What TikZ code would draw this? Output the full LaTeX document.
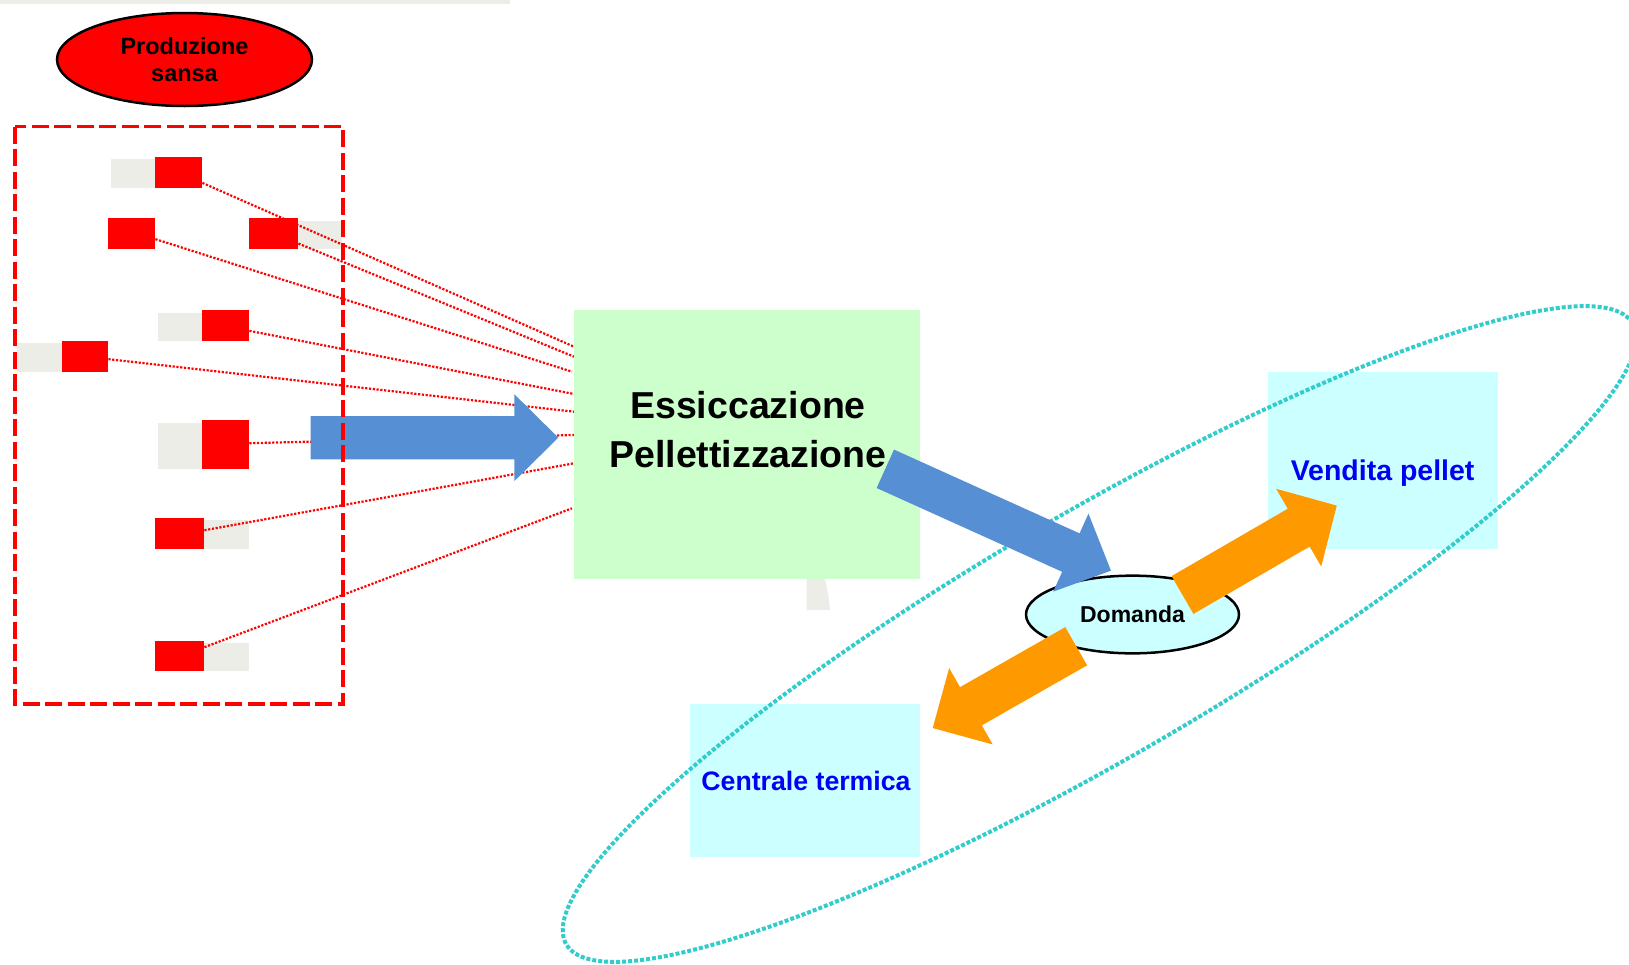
\documentclass[tikz,border=0pt]{standalone}
\usepackage{fontspec}
\setmainfont{Liberation Sans}
\usetikzlibrary{shapes.geometric,calc}
\pgfdeclarelayer{bg}
\pgfsetlayers{bg,main}
\definecolor{greenbg}{RGB}{204,255,204}
\definecolor{cyanbg}{RGB}{204,255,255}
\definecolor{grayc}{RGB}{235,237,230}
\definecolor{bluec}{RGB}{87,143,212}
\definecolor{orangec}{RGB}{255,153,0}
\definecolor{cyandot}{RGB}{51,204,204}
\definecolor{txtblue}{RGB}{0,0,245}
\newcommand{\blockarr}[6]{%
  \fill[#1, shift={(#2)}, rotate=#3] (0,-#5) -- ({#4-44},-#5) -- ({#4-44},-#6) -- (#4,0)
    -- ({#4-44},#6) -- ({#4-44},#5) -- (0,#5) -- cycle;}
\begin{document}
\begin{tikzpicture}[x=1pt,y=-1pt,
  redbox/.style={fill=red, draw=none, inner sep=0, anchor=north west},
  boxfill/.style={draw=none, inner sep=0, anchor=north west},
  reddot/.style={red, line width=2.2, dash pattern=on 2.2 off 1.6},
  bluetext/.style={text=txtblue, inner sep=0, anchor=base}]
\useasboundingbox (0,0) rectangle (1629,964);

% top strip
\fill[grayc] (0,0) rectangle (510,4);

% source ellipse
\node[ellipse, draw=black, line width=2.5, fill=red, minimum width=255, minimum height=93,
  inner sep=0, align=center, font=\bfseries\fontsize{23.5}{26.7}\selectfont] (prod) at (184.5,59.5) {Produzione\\sansa};

% red boxes
\node[redbox, minimum width=47, minimum height=30.7] (r1) at (155,157) {};
\node[redbox, minimum width=47, minimum height=30.7] (r2) at (108,218) {};
\node[redbox, minimum width=49, minimum height=30.7] (r3) at (249,218) {};
\node[redbox, minimum width=47, minimum height=30.7] (r4) at (202,310) {};
\node[redbox, minimum width=46, minimum height=30.7] (r5) at (62,341) {};
\node[redbox, minimum width=47, minimum height=49] (r6) at (202,420) {};
\node[redbox, minimum width=49, minimum height=30.7] (r7) at (155,518) {};
\node[redbox, minimum width=49, minimum height=29.7] (r8) at (155,641) {};

% green process box
\node[boxfill, fill=greenbg, minimum width=346, minimum height=269] (ess) at (574,310) {};
\fill[grayc] (806.7,579) -- (825,579) .. controls (828,592) and (829,600) .. (830,610) -- (806.7,610) -- cycle;
\node[font=\bfseries\fontsize{37.5}{49}\selectfont, align=center, inner sep=0] (esst) at (748,430) {Essiccazione\\Pellettizzazione};

% background: shadows and dotted links
\begin{pgfonlayer}{bg}
\fill[grayc] (111,159) rectangle (155,187.7);
\fill[grayc] (298,221) rectangle (341.7,248.7);
\fill[grayc] (158,313) rectangle (202,340.7);
\fill[grayc] (16.7,343) rectangle (62,371.7);
\fill[grayc] (158,423) rectangle (202,469);
\fill[grayc] (204,520) rectangle (249,548.7);
\fill[grayc] (204,643) rectangle (249,670.7);
\draw[reddot] ($(r1.east)+(0,10.35)$) -- ($(ess.north west)+(0,36.7)$);
\draw[reddot] ($(r3.east)+(0,10)$) -- ($(ess.north west)+(0,46.7)$);
\draw[reddot] ($(r2.east)+(0,5.6)$) -- ($(ess.north west)+(-2,61.7)$);
\draw[reddot] ($(r4.east)+(0,5.3)$) -- ($(ess.north west)+(0,84)$);
\draw[reddot] ($(r5.east)+(0,2.6)$) -- ($(ess.north west)+(0,101.7)$);
\draw[reddot] ($(r6.east)+(0,-1.5)$) -- ($(ess.north west)+(0,125)$);
\draw[reddot] ($(r7.east)+(0,-3.3)$) -- ($(ess.north west)+(0,153.3)$);
\draw[reddot] ($(r8.east)+(0,-8.85)$) -- ($(ess.north west)+(-2,198.3)$);
\end{pgfonlayer}

% blue arrow into process
\coordinate (a1) at (310.7,437.65);
\blockarr{bluec}{a1}{0}{247.6}{21.65}{43.5}

% dashed frame
\draw[red, line width=3.3, dash pattern=on 17 off 5.5] (15,126.5) rectangle (343,704);

% market boxes
\node[boxfill, fill=cyanbg, minimum width=230.7, minimum height=176.6] (vend) at (1267.3,371.7) {};
\node[boxfill, fill=cyanbg, minimum width=230, minimum height=152.7] (cent) at (690,704) {};

% market ellipse
\draw[cyandot, line width=4, dash pattern=on 4 off 2, rotate around={30.2:(1099.5,634)}] (1099.5,634) ellipse [x radius=617, y radius=122];

\node[bluetext, font=\bfseries\fontsize{28.5}{32}\selectfont] (vendt) at (1382.6,480) {Vendita pellet};
\node[bluetext, font=\bfseries\fontsize{26.7}{30}\selectfont] (centt) at (806,790.7) {Centrale termica};

% demand
\node[ellipse, draw=black, line width=2.5, fill=cyanbg, minimum width=213, minimum height=77.7,
  inner sep=0, font=\bfseries\fontsize{23}{26}\selectfont] (dom) at (1132.5,614.5) {Domanda};

% block arrows
\coordinate (a2) at (885.3,468.8);
\coordinate (a3) at (1182.5,595);
\coordinate (a4) at (1076.2,646.2);
\blockarr{bluec}{a2}{-24.3}{247.6}{21.1}{42.8}
\blockarr{orangec}{a3}{30.1}{178.3}{21.85}{44.9}
\blockarr{orangec}{a4}{209.7}{165.2}{22}{44}
\end{tikzpicture}
\end{document}
